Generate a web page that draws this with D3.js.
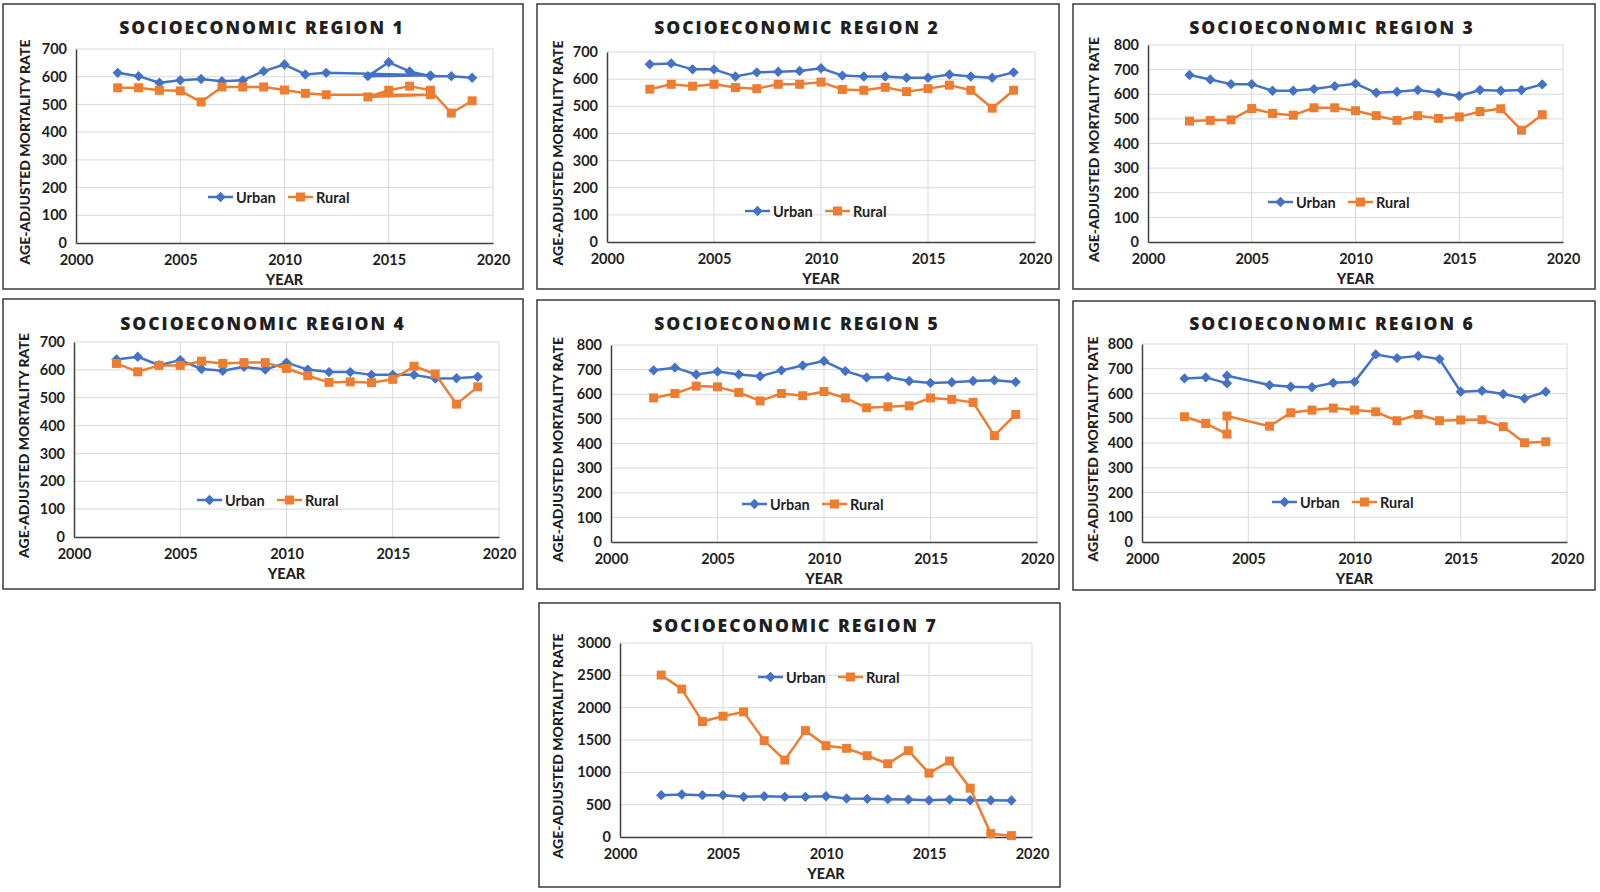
<!DOCTYPE html>
<html><head><meta charset="utf-8">
<script src="https://cdn.jsdelivr.net/npm/d3@7"></script>
<style>
html,body{margin:0;padding:0;background:#fff;}
svg{display:block;}
.tick text{font-family:Lato,"Open Sans",sans-serif;font-weight:700;font-size:14.5px;fill:#1f1f1f;}
</style></head>
<body>
<svg id="chart" width="1600" height="892"></svg>
<script>
// ---------- DATA ----------
const yearsStd = [2002,2003,2004,2005,2006,2007,2008,2009,2010,2011,2012,2013,2014,2015,2016,2017,2018,2019];
const yearsR1  = [2002,2003,2004,2005,2006,2007,2008,2009,2010,2011,2012,2017,2014,2015,2016,2017,2018,2019];
const yearsR6  = [2002,2003,2004,2004,2006,2007,2008,2009,2010,2011,2012,2013,2014,2015,2016,2017,2018,2019];

const urban1 = [614,602,578,587,592,584,587,620,644,608,614,605,602,652,619,602,602,596];
const rural1 = [560,560,551,549,509,563,563,563,552,540,535,535,527,551,566,551,469,513];
const urban2 = [655,658,636,636,610,625,627,630,640,613,610,610,605,605,617,610,605,625];
const rural2 = [563,581,574,581,569,565,581,581,589,562,559,570,554,565,578,559,493,559];
const urban3 = [678,660,641,641,614,614,621,633,643,606,610,617,606,593,617,614,617,640];
const rural3 = [491,494,496,542,522,515,545,545,533,513,494,513,502,508,530,541,454,517];
const urban4 = [637,647,617,635,603,597,611,601,626,601,592,592,582,582,582,569,570,575];
const rural4 = [623,593,616,616,631,623,626,626,605,579,555,557,554,566,613,585,477,539];
const urban5 = [697,708,680,692,680,673,697,717,735,694,668,670,654,646,649,654,657,650];
const rural5 = [585,603,633,630,607,573,603,594,611,585,545,549,553,585,579,567,432,518];
const urban6 = [661,665,641,672,634,627,625,643,647,758,743,752,739,607,611,598,580,607];
const rural6 = [506,479,436,509,468,522,533,541,533,526,490,515,490,493,494,466,401,405];
const urban7 = [647,657,647,647,621,631,621,621,631,595,590,585,579,569,579,569,569,564];
const rural7 = [2504,2287,1785,1868,1935,1490,1190,1645,1412,1371,1257,1133,1335,988,1174,755,52,21];

const ticks700 = [0,100,200,300,400,500,600,700];
const ticks800 = [0,100,200,300,400,500,600,700,800];
const ticks3000 = [0,500,1000,1500,2000,2500,3000];
const xTicks = [2000,2005,2010,2015,2020];
const seriesNames = ["Urban","Rural"];
const titles = ["SOCIOECONOMIC REGION 1","SOCIOECONOMIC REGION 2","SOCIOECONOMIC REGION 3",
  "SOCIOECONOMIC REGION 4","SOCIOECONOMIC REGION 5","SOCIOECONOMIC REGION 6","SOCIOECONOMIC REGION 7"];

// ---------- LAYOUT ----------
const panels = [
  {title:titles[0], years:yearsR1, urban:urban1, rural:rural1, ticks:ticks700, box:[3,4,523,289],   plot:[76,49,493,243],   tx:262, ty:34,  ylx:24,   leg:[208,197]},
  {title:titles[1], years:yearsStd,urban:urban2, rural:rural2, ticks:ticks700, box:[537,4,1059,289], plot:[607,52,1035,242], tx:797, ty:34,  ylx:557,  leg:[745,211]},
  {title:titles[2], years:yearsStd,urban:urban3, rural:rural3, ticks:ticks800, box:[1073,4,1595,289],plot:[1148,45,1563,242],tx:1332,ty:34,  ylx:1093, leg:[1268,202]},
  {title:titles[3], years:yearsStd,urban:urban4, rural:rural4, ticks:ticks700, box:[3,299,523,589], plot:[74,342,499,537],  tx:263, ty:330, ylx:23,   leg:[197,500]},
  {title:titles[4], years:yearsStd,urban:urban5, rural:rural5, ticks:ticks800, box:[537,300,1059,589],plot:[611,345,1037,542],tx:797,ty:330, ylx:557,  leg:[742,504]},
  {title:titles[5], years:yearsR6, urban:urban6, rural:rural6, ticks:ticks800, box:[1073,301,1595,590],plot:[1142,344,1567,542],tx:1332,ty:330,ylx:1092, leg:[1272,502]},
  {title:titles[6], years:yearsStd,urban:urban7, rural:rural7, ticks:ticks3000,box:[539,603,1060,887],plot:[620,643,1032,837],tx:795, ty:632, ylx:557,  leg:[758,677]}
];

const blue = "#4472C4", orange = "#ED7D31";
const svg = d3.select("#chart");

function diamondPath(r){ return `M0,${-r}L${r},0L0,${r}L${-r},0Z`; }
function squarePath(r){ return `M${-r},${-r}H${r}V${r}H${-r}Z`; }

panels.forEach(p => {
  const g = svg.append("g");
  const [bx0,by0,bx1,by1] = p.box;
  g.append("rect").attr("x",bx0).attr("y",by0).attr("width",bx1-bx0).attr("height",by1-by0)
    .attr("fill","#fff").attr("stroke","#3a3a3a").attr("stroke-width",1.5);

  const [px0,py0,px1,py1] = p.plot;
  const x = d3.scaleLinear().domain([2000,2020]).range([px0,px1]);
  const y = d3.scaleLinear().domain([0,d3.max(p.ticks)]).range([py1,py0]);

  // grid
  g.append("g").selectAll("line").data(p.ticks.slice(1)).join("line")
    .attr("x1",px0).attr("x2",px1).attr("y1",d=>y(d)).attr("y2",d=>y(d))
    .attr("stroke","#d9d9d9").attr("stroke-width",1);
  g.append("g").selectAll("line").data(xTicks.slice(1)).join("line")
    .attr("x1",d=>x(d)).attr("x2",d=>x(d)).attr("y1",py0).attr("y2",py1)
    .attr("stroke","#d9d9d9").attr("stroke-width",1);

  // axes
  const ya = g.append("g").attr("transform",`translate(${px0},0)`)
    .call(d3.axisLeft(y).tickValues(p.ticks).tickSize(0).tickPadding(9).tickFormat(d3.format("d")));
  ya.select(".domain").attr("stroke","#404040").attr("stroke-width",1.5);
  const xa = g.append("g").attr("transform",`translate(0,${py1})`)
    .call(d3.axisBottom(x).tickValues(xTicks).tickSize(0).tickPadding(12).tickFormat(d3.format("d")));
  xa.select(".domain").attr("stroke","#404040").attr("stroke-width",1.5);

  // title
  g.append("text").attr("x",p.tx).attr("y",p.ty).attr("text-anchor","middle")
    .attr("font-family","'Open Sans',sans-serif").attr("font-weight",800).attr("font-size",17.5)
    .attr("letter-spacing","2px").attr("fill","#1f1f1f").text(p.title);
  // y label
  const cy = (py0+py1)/2 + 6;
  g.append("text").attr("transform",`translate(${p.ylx},${cy}) rotate(-90)`).attr("text-anchor","middle")
    .attr("dominant-baseline","central")
    .attr("font-family","Lato,sans-serif").attr("font-weight",900).attr("font-size",14)
    .attr("fill","#1f1f1f").text("AGE-ADJUSTED MORTALITY RATE");
  // x label
  g.append("text").attr("x",(px0+px1)/2).attr("y",py1+36).attr("text-anchor","middle")
    .attr("dominant-baseline","central")
    .attr("font-family","Lato,sans-serif").attr("font-weight",900).attr("font-size",14.5)
    .attr("fill","#1f1f1f").text("YEAR");

  // series
  const series = [
    {name:seriesNames[0], vals:p.urban, color:blue, shape:diamondPath(5.2)},
    {name:seriesNames[1], vals:p.rural, color:orange, shape:squarePath(4.5)}
  ];
  const line = d3.line().x(d=>x(d[0])).y(d=>y(d[1]));
  series.forEach(s => {
    const pts = p.years.map((yr,i)=>[yr,s.vals[i]]);
    g.append("path").datum(pts).attr("d",line).attr("fill","none")
      .attr("stroke",s.color).attr("stroke-width",2.5).attr("stroke-linejoin","round");
    g.append("g").selectAll("path").data(pts).join("path")
      .attr("transform",d=>`translate(${x(d[0])},${y(d[1])})`).attr("d",s.shape).attr("fill",s.color);
  });

  // legend
  const [lx,ly] = p.leg;
  series.forEach((s,i) => {
    const ox = lx + i*80;
    g.append("line").attr("x1",ox).attr("x2",ox+25).attr("y1",ly).attr("y2",ly)
      .attr("stroke",s.color).attr("stroke-width",2.5);
    g.append("path").attr("transform",`translate(${ox+12.5},${ly})`).attr("d",s.shape).attr("fill",s.color);
    g.append("text").attr("x",ox+28).attr("y",ly).attr("dominant-baseline","central")
      .attr("font-family","Lato,sans-serif").attr("font-weight",700).attr("font-size",14.5)
      .attr("fill","#1f1f1f").text(s.name);
  });
});
</script>
</body></html>
